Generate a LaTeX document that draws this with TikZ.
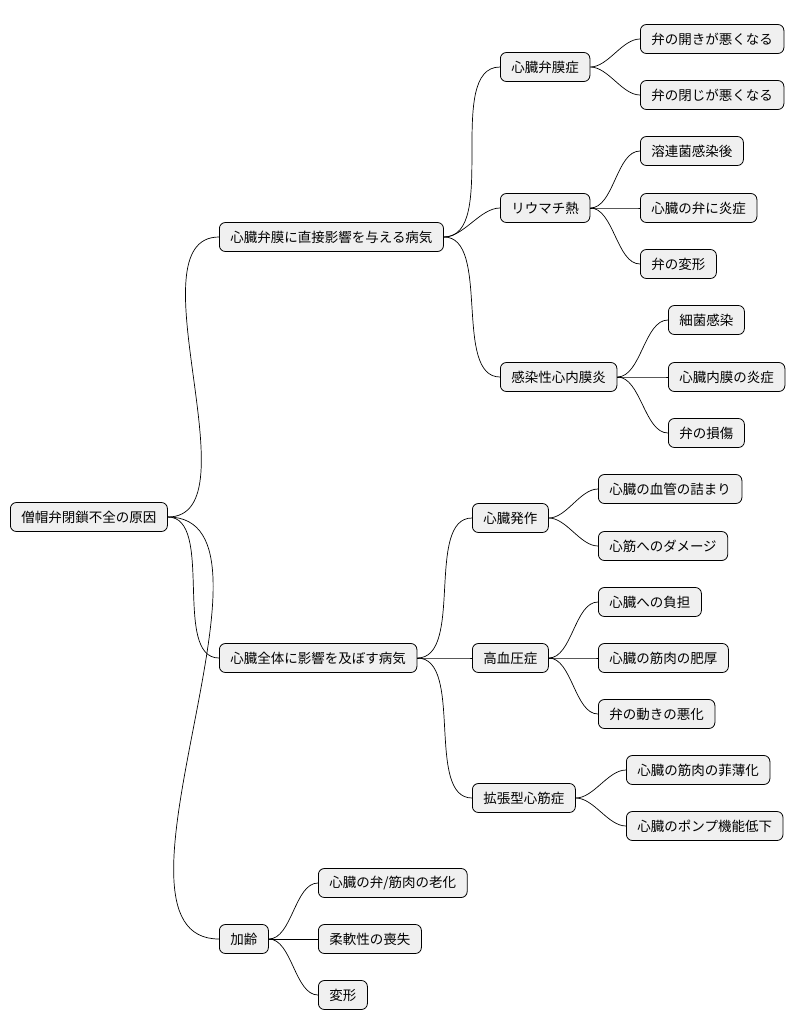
\documentclass[tikz,border=0pt]{standalone}
\usepackage{fontspec}
\setmainfont{Noto Sans CJK JP}
\begin{document}
\begin{tikzpicture}[x=1pt,y=-1pt,
 box/.style={draw=black,fill=black!6,rounded corners=6pt,anchor=west,minimum height=29pt,inner xsep=11pt,font=\fontsize{13.5}{15}\selectfont,line width=0.8pt},
 link/.style={draw=black,line width=0.7pt}]
\useasboundingbox (0,0) rectangle (796,1034);
\node[box] (r) at (10,517) {僧帽弁閉鎖不全の原因};
\node[box] (a) at (219,237) {心臓弁膜に直接影響を与える病気};
\node[box] (a1) at (500,67) {心臓弁膜症};
\node[box] (a11) at (640,39) {弁の開きが悪くなる};
\node[box] (a12) at (640,95) {弁の閉じが悪くなる};
\node[box] (a2) at (500,208) {リウマチ熱};
\node[box] (a21) at (640,151) {溶連菌感染後};
\node[box] (a22) at (640,208) {心臓の弁に炎症};
\node[box] (a23) at (640,264) {弁の変形};
\node[box] (a3) at (500,377) {感染性心内膜炎};
\node[box] (a31) at (668,320) {細菌感染};
\node[box] (a32) at (668,377) {心臓内膜の炎症};
\node[box] (a33) at (668,433) {弁の損傷};
\node[box] (b) at (219,658) {心臓全体に影響を及ぼす病気};
\node[box] (b1) at (472,518) {心臓発作};
\node[box] (b11) at (598,489) {心臓の血管の詰まり};
\node[box] (b12) at (598,546) {心筋へのダメージ};
\node[box] (b2) at (472,658) {高血圧症};
\node[box] (b21) at (598,602) {心臓への負担};
\node[box] (b22) at (598,658) {心臓の筋肉の肥厚};
\node[box] (b23) at (598,714) {弁の動きの悪化};
\node[box] (b3) at (472,798) {拡張型心筋症};
\node[box] (b31) at (626,770) {心臓の筋肉の菲薄化};
\node[box] (b32) at (626,826) {心臓のポンプ機能低下};
\node[box] (c) at (219,939) {加齢};
\node[box] (c1) at (318,883) {心臓の弁/筋肉の老化};
\node[box] (c2) at (318,939) {柔軟性の喪失};
\node[box] (c3) at (318,995) {変形};
\foreach \p/\c in {r/a,r/b,r/c,a/a1,a/a2,a/a3,a1/a11,a1/a12,a2/a21,a2/a22,a2/a23,a3/a31,a3/a32,a3/a33,b/b1,b/b2,b/b3,b1/b11,b1/b12,b2/b21,b2/b22,b2/b23,b3/b31,b3/b32,c/c1,c/c2,c/c3}
 \draw[link] (\p.east) to[out=0,in=180,looseness=0.8] (\c.west);
\end{tikzpicture}
\end{document}
